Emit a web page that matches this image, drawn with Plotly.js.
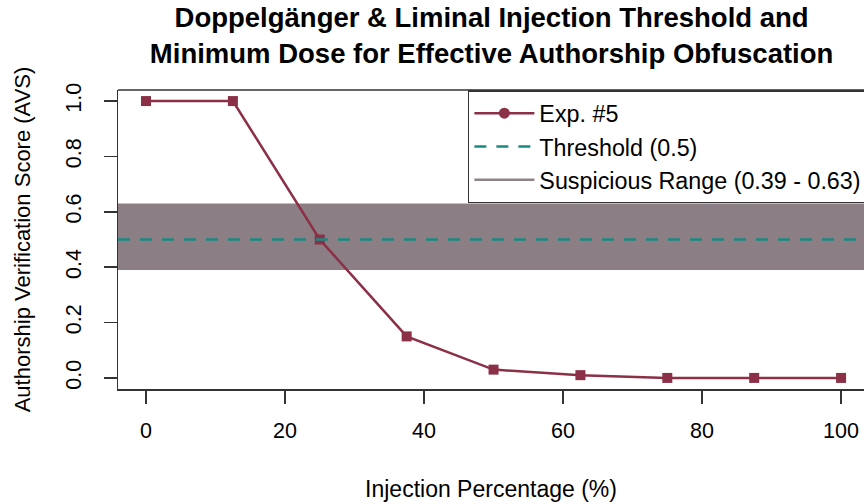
<!DOCTYPE html>
<html>
<head>
<meta charset="utf-8">
<script src="https://cdn.plot.ly/plotly-3.0.1.min.js"></script>
<style>html,body{margin:0;padding:0;background:#fff;}#chart{width:864px;height:504px;}</style>
</head>
<body>
<div id="chart"></div>
<script>
const injectionPct = [0, 12.5, 25, 37.5, 50, 62.5, 75, 87.5, 100];
const avsScore = [1.0, 1.0, 0.5, 0.15, 0.03, 0.01, 0.0, 0.0, 0.0];
const threshold = 0.5;
const suspiciousLow = 0.39;
const suspiciousHigh = 0.63;
const xTicks = [0, 20, 40, 60, 80, 100];
const yTicks = [0.0, 0.2, 0.4, 0.6, 0.8, 1.0];
const seriesName = "Exp. #5";
const thresholdName = "Threshold (0.5)";
const rangeName = "Suspicious Range (0.39 - 0.63)";

const FONT = "Liberation Sans, Arial, sans-serif";
const maroon = "#8b3046";
const teal = "#1a8a80";
const band = "#8b7e85";

const traces = [
  {x: injectionPct, y: avsScore, type: "scatter", mode: "lines+markers", name: seriesName, showlegend: false,
   line: {color: maroon, width: 2.5}, marker: {symbol: "square", size: 10, color: maroon}},
  {x: [null], y: [null], type: "scatter", mode: "lines+markers", name: seriesName,
   line: {color: maroon, width: 2.5}, marker: {symbol: "circle", size: 11, color: maroon}},
  {x: [null], y: [null], type: "scatter", mode: "lines", name: thresholdName,
   line: {color: teal, width: 2.5, dash: "12px,10px"}},
  {x: [null], y: [null], type: "scatter", mode: "lines", name: rangeName,
   line: {color: "#8c8489", width: 2.5}}
];

const layout = {
  width: 864, height: 504,
  margin: {l: 118, r: 0, t: 90, b: 115, autoexpand: false},
  paper_bgcolor: "#fff", plot_bgcolor: "#fff",
  font: {family: FONT, size: 22, color: "#000"},
  title: {text: "<b>Doppelgänger & Liminal Injection Threshold and<br>Minimum Dose for Effective Authorship Obfuscation</b>",
          font: {family: FONT, size: 27.5, color: "#000"}, xref: "container", x: 0.569, xanchor: "center",
          yref: "container", y: 0.946, yanchor: "middle"},
  xaxis: {range: [-4.03, 103.3], tickvals: xTicks, ticks: "outside", ticklen: 13, tickwidth: 1.5, tickcolor: "#333",
          showgrid: false, zeroline: false, showline: true, linecolor: "#333", linewidth: 1.5, automargin: false,
          tickfont: {size: 21.5}, ticklabelstandoff: 9,
          title: {text: "Injection Percentage (%)", font: {size: 23}, standoff: 38}},
  yaxis: {range: [-0.04, 1.04], tickvals: yTicks, tickformat: ".1f", ticks: "outside", ticklen: 13, tickwidth: 1.5, tickcolor: "#333",
          showgrid: false, zeroline: false, showline: true, linecolor: "#333", linewidth: 1.5, automargin: false,
          tickangle: -90, tickfont: {size: 21.5}, ticklabelstandoff: 14,
          title: {text: "Authorship Verification Score (AVS)", font: {size: 22}, standoff: 25}},
  showlegend: true,
  legend: {x: 0.469, xanchor: "left", y: 1, yanchor: "top", bordercolor: "#333", borderwidth: 1.5,
           bgcolor: "#fff", font: {size: 23.3}, tracegroupgap: 0, itemwidth: 60},
  shapes: [
    {type: "rect", xref: "paper", x0: 0, x1: 1, yref: "y", y0: suspiciousLow, y1: suspiciousHigh,
     fillcolor: band, line: {width: 0}, layer: "below"},
    {type: "line", xref: "paper", x0: 0, x1: 1, yref: "y", y0: threshold, y1: threshold,
     line: {color: teal, width: 2.5, dash: "12px,10px"}, layer: "above"},
    {type: "line", xref: "paper", x0: 0, x1: 1, yref: "paper", y0: 1, y1: 1,
     line: {color: "#333", width: 1.5}, layer: "above"}
  ]
};

Plotly.newPlot("chart", traces, layout, {displayModeBar: false, staticPlot: true});
</script>
</body>
</html>
